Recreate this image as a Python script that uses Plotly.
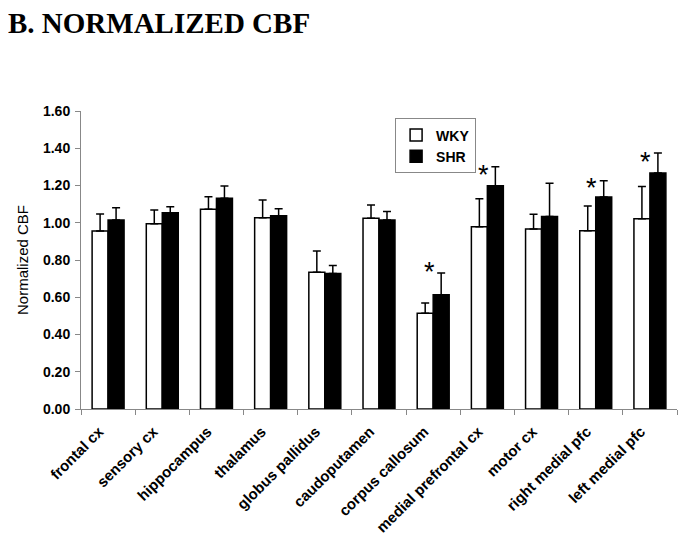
import plotly.graph_objects as go

categories = ["frontal cx", "sensory cx", "hippocampus", "thalamus", "globus pallidus",
              "caudoputamen", "corpus callosum", "medial prefrontal cx", "motor cx",
              "right medial pfc", "left medial pfc"]
wky = [0.956, 0.995, 1.072, 1.027, 0.734, 1.024, 0.514, 0.979, 0.966, 0.957, 1.022]
wky_err = [0.091, 0.073, 0.068, 0.095, 0.114, 0.071, 0.055, 0.150, 0.079, 0.133, 0.172]
shr = [1.015, 1.054, 1.131, 1.038, 0.728, 1.015, 0.614, 1.199, 1.034, 1.138, 1.267]
shr_err = [0.066, 0.032, 0.066, 0.037, 0.043, 0.045, 0.116, 0.102, 0.178, 0.088, 0.108]
sig_categories = ["corpus callosum", "medial prefrontal cx", "right medial pfc", "left medial pfc"]
sig_y = [0.737, 1.256, 1.185, 1.328]
y_ticks = [0.0, 0.2, 0.4, 0.6, 0.8, 1.0, 1.2, 1.4, 1.6]

fig = go.Figure()
fig.add_trace(go.Bar(
    name="WKY", x=categories, y=wky,
    marker=dict(color="white", line=dict(color="black", width=1.5)),
    error_y=dict(type="data", symmetric=False, array=wky_err, arrayminus=[0]*len(wky),
                 color="black", thickness=1.5, width=4),
))
fig.add_trace(go.Bar(
    name="SHR", x=categories, y=shr,
    marker=dict(color="black", line=dict(color="black", width=1.5)),
    error_y=dict(type="data", symmetric=False, array=shr_err, arrayminus=[0]*len(shr),
                 color="black", thickness=1.5, width=4),
))

for c, yv in zip(sig_categories, sig_y):
    fig.add_annotation(x=c, y=yv, xref="x", yref="y", text="*", showarrow=False,
                       xshift=-4, font=dict(family="Liberation Sans", size=27, color="black"))

fig.update_layout(
    width=678, height=533,
    paper_bgcolor="white", plot_bgcolor="white",
    margin=dict(l=73, r=9, t=103, b=132, autoexpand=False),
    barmode="group", bargap=0.41, bargroupgap=0,
    font=dict(family="Liberation Sans, Arial", color="black"),
    title=dict(text="<b>B. NORMALIZED CBF</b>", x=0, xanchor="left", y=0.973, yanchor="middle",
               pad=dict(l=0, t=0, b=0, r=0),
               font=dict(family="Liberation Serif, Times New Roman", size=29, color="black")),
    legend=dict(x=0.527, y=0.975, xanchor="left", yanchor="top",
                bordercolor="#888888", borderwidth=1, bgcolor="white",
                font=dict(size=14, color="black", weight="bold"), itemwidth=30,
                tracegroupgap=0),
    xaxis=dict(showline=True, linecolor="#888888", linewidth=1, automargin=False,
               ticks="outside", tickson="boundaries", ticklen=5, tickcolor="#888888",
               tickangle=-45, tickfont=dict(size=15, weight="bold", color="black"),
               ticklabelshift=-9, ticklabelstandoff=7,
               showgrid=False),
    yaxis=dict(range=[0, 1.6], tickvals=y_ticks, tickformat=".2f", automargin=False,
               showline=True, linecolor="#888888", linewidth=1,
               ticks="outside", ticklen=5, tickcolor="#888888",
               tickfont=dict(size=14, weight="bold", color="black"),
               ticklabelstandoff=2,
               showgrid=False, zeroline=False,
               title=dict(text="Normalized CBF", font=dict(size=15, color="black"), standoff=10)),
)

fig.write_html("out.html")
